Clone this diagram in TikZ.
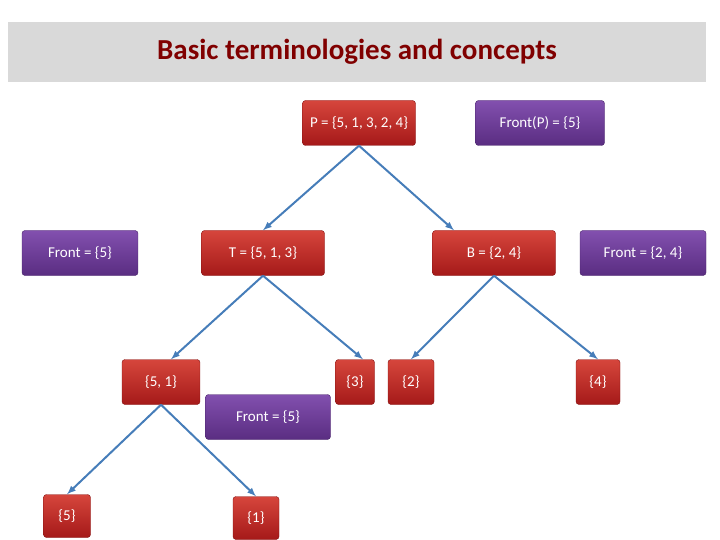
\documentclass[tikz,border=0pt]{standalone}
\usepackage{fontspec}
\setmainfont{Carlito}
\usetikzlibrary{positioning}
\definecolor{redtop}{RGB}{214,70,60}
\definecolor{redbot}{RGB}{165,25,25}
\definecolor{purtop}{RGB}{130,80,175}
\definecolor{purbot}{RGB}{90,45,130}
\definecolor{linkblue}{RGB}{70,125,185}
\definecolor{titlered}{RGB}{128,0,0}
\tikzset{
  redbox/.style={draw=redbot!80!black, rounded corners=3pt, top color=redtop, bottom color=redbot,
    text=white, font=\fontsize{15}{18}\selectfont, minimum height=45pt, inner sep=3pt},
  purbox/.style={draw=purbot!80!black, rounded corners=3pt, top color=purtop, bottom color=purbot,
    text=white, font=\fontsize{15}{18}\selectfont, minimum height=45pt, inner sep=3pt},
  link/.style={draw=linkblue, line width=2pt, -latex}
}
\begin{document}
\begin{tikzpicture}[x=1pt,y=-1pt]
    \useasboundingbox (0,0) rectangle (720,540);
    \fill[gray!30] (8,22) rectangle (706,82);
    \node (title) at (357,52) {\fontsize{29}{34}\selectfont\bfseries\color{titlered}Basic terminologies and concepts};
    % first level
    \node[redbox, minimum width=113pt] (p) at (359,123) {P = \{5, 1, 3, 2, 4\}};
    \node[purbox, minimum width=129pt] (frontp) at (540,123) {Front(P) = \{5\}};
    % second level
    \node[purbox, minimum width=116pt] (front5a) at (80,253) {Front = \{5\}};
    \node[redbox, minimum width=123pt] (t) at (263,253) {T = \{5, 1, 3\}};
    \node[redbox, minimum width=123pt] (b) at (494,253) {B = \{2, 4\}};
    \node[purbox, minimum width=126pt] (front24) at (643,253) {Front = \{2, 4\}};
    % third level
    \node[redbox, minimum width=78pt] (n51) at (161,382) {\{5, 1\}};
    \node[redbox, minimum width=39pt] (n3) at (355,382) {\{3\}};
    \node[redbox, minimum width=46pt] (n2) at (411,382) {\{2\}};
    \node[redbox, minimum width=44pt] (n4) at (598,382) {\{4\}};
    \node[purbox, minimum width=125pt] (front5b) at (268,417) {Front = \{5\}};
    % leaves
    \node[redbox, minimum width=47pt, minimum height=43pt] (n5) at (67,516) {\{5\}};
    \node[redbox, minimum width=46pt, minimum height=43pt] (n1) at (256,518) {\{1\}};
    % links
    \draw[link] (p.south) -- (t.north);
    \draw[link] (p.south) -- ([xshift=-40pt]b.north);
    \draw[link] (t.south) -- ([xshift=10pt]n51.north);
    \draw[link] (t.south) -- ([xshift=8pt]n3.north);
    \draw[link] (b.south) -- (n2.north);
    \draw[link] (b.south) -- (n4.north);
    \draw[link] (n51.south) -- (n5.north);
    \draw[link] (n51.south) -- (n1.north);
\end{tikzpicture}
\end{document}
